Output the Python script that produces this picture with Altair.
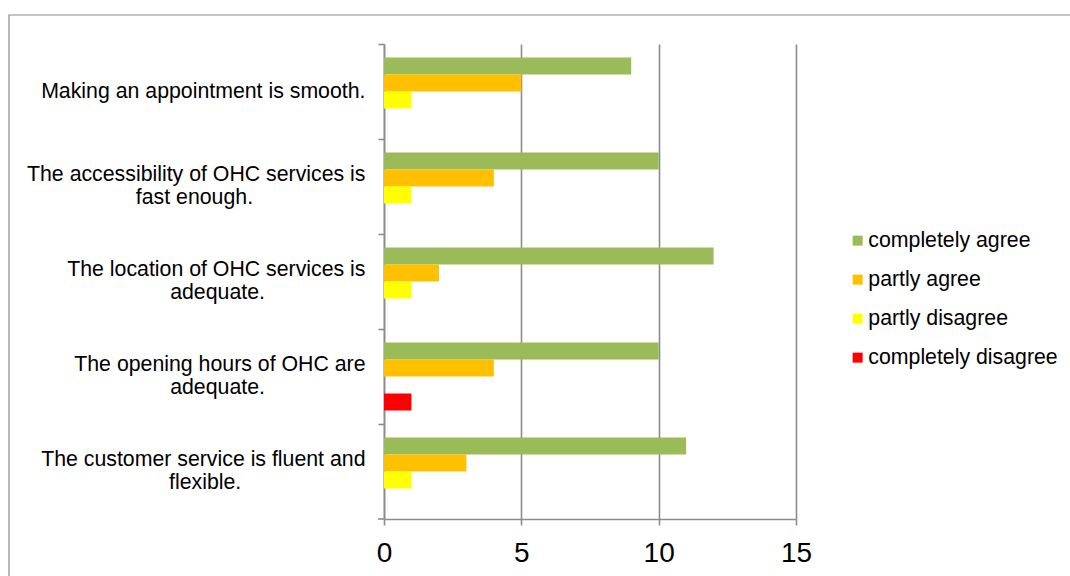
import altair as alt
import pandas as pd

# Survey statements; "|" marks a line break. The short second line is padded
# with no-break spaces (ended by a zero-width space so the padding is kept)
# to sit centred under the first one.
NB = "\u00a0"
ZW = "\u200b"
statements = [
    "Making an appointment is smooth.",
    "The accessibility of OHC services is|fast enough." + NB * 19 + ZW,
    "The location of OHC services is|adequate." + NB * 17 + ZW,
    "The opening hours of OHC are|adequate." + NB * 17 + ZW,
    "The customer service is fluent and|flexible." + NB * 21 + ZW,
]
answers = ["completely agree", "partly agree", "partly disagree", "completely disagree"]
colors = ["#9BBB59", "#FFC000", "#FFFF00", "#FF0000"]

completely_agree = [9, 10, 12, 10, 11]
partly_agree = [5, 4, 2, 4, 3]
partly_disagree = [1, 1, 1, 0, 1]
completely_disagree = [0, 0, 0, 1, 0]

series = [completely_agree, partly_agree, partly_disagree, completely_disagree]
rows = []
for answer, values in zip(answers, series):
    for statement, v in zip(statements, values):
        rows.append({"statement": statement, "answer": answer, "count": v})
df = pd.DataFrame(rows)

W, H = 412, 475
FONT = "Liberation Sans"
GRAY = "#8c8c8c"
LW = 1.6
LINE_H = 23.5

bars = alt.Chart(df).mark_bar().encode(
    x=alt.X(
        "count:Q",
        scale=alt.Scale(domain=[0, 15], nice=False),
        axis=alt.Axis(
            values=[0, 5, 10, 15],
            title=None,
            grid=True,
            gridColor=GRAY,
            gridWidth=LW,
            domainColor=GRAY,
            domainWidth=LW,
            tickColor=GRAY,
            tickWidth=LW,
            tickSize=6,
            labelFont=FONT,
            labelFontSize=28,
            labelColor="#000000",
            labelPadding=14,
            labelFlush=False,
        ),
    ),
    y=alt.Y(
        "statement:N",
        sort=statements,
        scale=alt.Scale(paddingInner=0, paddingOuter=0),
        axis=alt.Axis(
            title=None,
            bandPosition=0,
            domainColor=GRAY,
            domainWidth=LW,
            tickColor=GRAY,
            tickWidth=LW,
            tickSize=6,
            labelExpr="split(datum.label, '|')",
            labelFont=FONT,
            labelFontSize=21.3,
            labelLineHeight=LINE_H,
            labelColor="#000000",
            labelAlign="right",
            labelBaseline="middle",
            labelPadding=13,
            labelLimit=500,
            # two-line labels are lifted so the block is centred on its band
            labelOffset={
                "condition": {"test": "indexof(datum.label, '|') >= 0", "value": -LINE_H / 2},
                "value": 0,
            },
        ),
    ),
    yOffset=alt.YOffset(
        "answer:N",
        sort=answers,
        scale=alt.Scale(paddingInner=0, paddingOuter=0.794),
    ),
    color=alt.Color(
        "answer:N",
        sort=answers,
        scale=alt.Scale(domain=answers, range=colors),
        legend=alt.Legend(
            title=None,
            orient="none",
            legendX=463,
            legendY=186,
            symbolType="square",
            symbolSize=100,
            symbolStrokeWidth=0,
            labelFont=FONT,
            labelFontSize=21.3,
            labelColor="#000000",
            labelOffset=0,
            labelLimit=400,
            rowPadding=17,
            padding=0,
        ),
    ),
)

# closing tick at the bottom edge of the category axis
bottom_tick = alt.Chart(pd.DataFrame({"t": [0]})).mark_rule(color=GRAY, strokeWidth=LW).encode(
    x=alt.value(-6), x2=alt.value(0), y=alt.value(H)
)

# outer chart frame
frame = alt.Chart(pd.DataFrame({"t": [0]})).mark_rect(
    fill=None, stroke="#8a8a8a", strokeWidth=1.2
).encode(
    x=alt.value(-375), x2=alt.value(720), y=alt.value(-29), y2=alt.value(560)
)

chart = (
    alt.layer(frame, bars, bottom_tick)
    .properties(
        width=W,
        height=H,
        autosize=alt.AutoSizeParams(type="none"),
        padding={"left": 384, "top": 44, "right": 274, "bottom": 57},
        background="#ffffff",
    )
    .configure_view(stroke=None)
)

chart.save("out.html", embed_options={"renderer": "svg", "actions": False})
